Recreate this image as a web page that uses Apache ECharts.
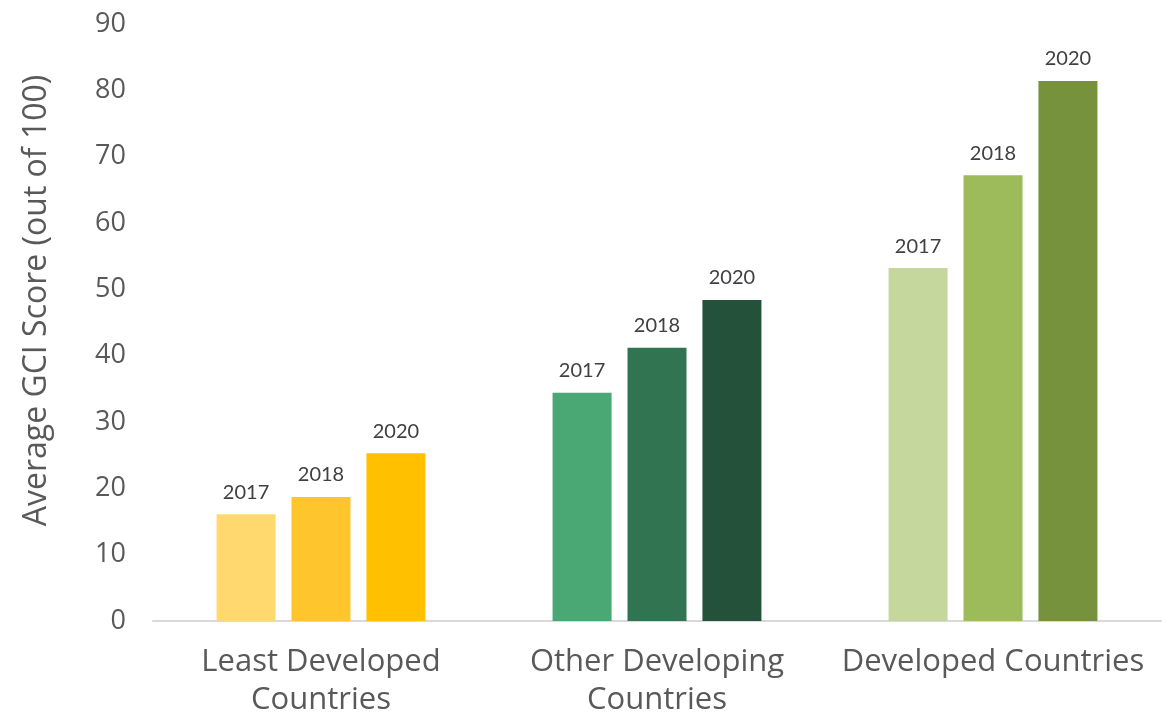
<!DOCTYPE html>
<html>
<head>
<meta charset="utf-8">
<script src="https://cdn.jsdelivr.net/npm/echarts@6/dist/echarts.min.js"></script>
<style>
  html, body { margin: 0; padding: 0; background: #fff; }
  #chart { width: 1166px; height: 714px; }
</style>
</head>
<body>
<div id="chart"></div>
<script>
const categories = ['Least Developed\nCountries', 'Other Developing\nCountries', 'Developed Countries']
const years = ['2017', '2018', '2020']
const scores2017 = [16.1, 34.4, 53.2]
const scores2018 = [18.7, 41.2, 67.2]
const scores2020 = [25.3, 48.4, 81.4]
// one colour per group per year
const colors2017 = ['#ffd96e', '#4aa874', '#c5d79c']
const colors2018 = ['#fec52c', '#317452', '#9dbb5a']
const colors2020 = ['#ffc000', '#23513a', '#76923c']

const axisFont = '"Open Sans", "Noto Sans", sans-serif'
const labelFont = 'Lato, "Noto Sans", sans-serif'

const makeSeries = (name, values, colors) => ({
  name,
  type: 'bar',
  barWidth: 59,
  barGap: '27%',
  data: values.map((v, i) => ({ value: v, itemStyle: { color: colors[i] } })),
  label: {
    show: true,
    position: 'top',
    distance: 12,
    formatter: '{a}',
    color: '#404040',
    fontSize: 20,
    fontFamily: labelFont,
  },
})

const chart = echarts.init(document.getElementById('chart'))
chart.setOption({
  animation: false,
  grid: { top: 24, left: 153, right: 5, bottom: 93, containLabel: false, outerBoundsMode: 'none' },
  xAxis: {
    type: 'category',
    data: categories,
    axisTick: { show: false },
    axisLine: { lineStyle: { color: '#d9d9d9', width: 2 } },
    axisLabel: {
      color: '#595959',
      fontSize: 31,
      lineHeight: 38,
      margin: 22,
      fontFamily: axisFont,
      interval: 0,
    },
  },
  yAxis: {
    type: 'value',
    min: 0,
    max: 90,
    interval: 10,
    axisLine: { show: false },
    axisTick: { show: false },
    splitLine: { show: false },
    axisLabel: { color: '#595959', fontSize: 27, margin: 27, fontFamily: axisFont },
    name: 'Average GCI Score (out of 100)',
    nameLocation: 'middle',
    nameRotate: 90,
    nameGap: 100,
    nameTextStyle: { color: '#595959', fontSize: 32, fontFamily: axisFont, padding: [0, 0, 0, 44] },
  },
  series: [
    makeSeries(years[0], scores2017, colors2017),
    makeSeries(years[1], scores2018, colors2018),
    makeSeries(years[2], scores2020, colors2020),
  ],
})
</script>
</body>
</html>
